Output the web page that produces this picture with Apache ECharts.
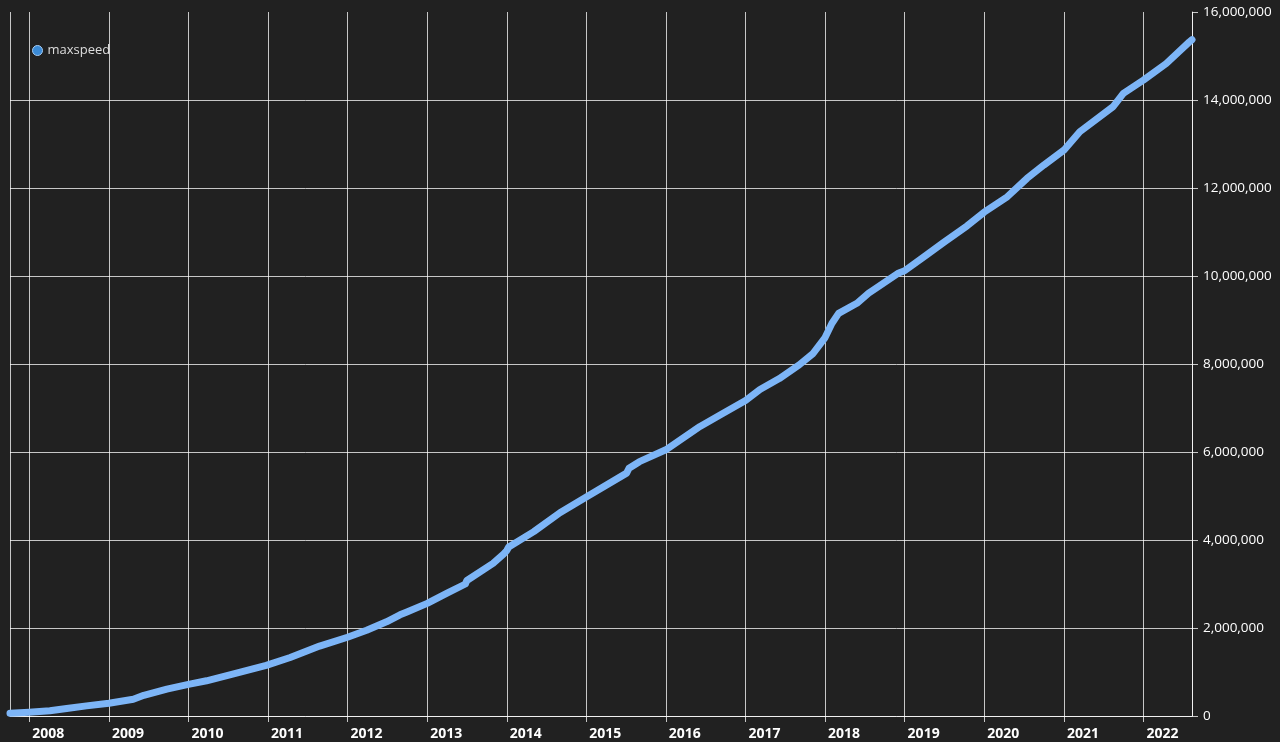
<!DOCTYPE html>
<html>
<head>
<meta charset="utf-8">
<script src="https://cdn.jsdelivr.net/npm/echarts@6/dist/echarts.min.js"></script>
<style>
html,body{margin:0;padding:0;background:#212121;}
#chart{width:1280px;height:742px;}
</style>
</head>
<body>
<div id="chart"></div>
<script>
var seriesName = 'maxspeed';
var dates = [
 '2007-10-05','2008-01-01','2008-04-05','2008-06-21','2008-09-20',
 '2009-01-01','2009-04-23','2009-06-10','2009-09-24',
 '2010-01-01','2010-03-25','2010-07-23','2010-12-24',
 '2011-04-13','2011-08-26',
 '2012-01-01','2012-03-29','2012-06-28','2012-08-29','2012-09-27',
 '2013-01-01','2013-04-02','2013-06-25','2013-07-02','2013-10-30','2013-12-17',
 '2014-01-01','2014-01-10','2014-05-05','2014-09-02',
 '2015-01-01','2015-07-05','2015-07-16','2015-09-02',
 '2016-01-01','2016-06-06','2016-09-06',
 '2017-01-01','2017-03-08','2017-06-05','2017-09-04','2017-11-07',
 '2018-01-01','2018-02-01','2018-03-04','2018-05-27','2018-07-20','2018-08-25','2018-12-05',
 '2019-01-01','2019-04-12','2019-06-28','2019-10-15',
 '2020-01-01','2020-04-16','2020-07-16','2020-10-01',
 '2021-01-01','2021-03-15','2021-08-15','2021-10-01',
 '2022-01-01','2022-04-16','2022-07-31','2022-08-12'
];
var values = [
 60000,85000,120000,170000,230000,
 290000,380000,470000,610000,
 720000,800000,950000,1150000,
 1330000,1590000,
 1790000,1950000,2140000,2300000,2360000,
 2560000,2790000,3000000,3080000,3470000,3680000,
 3760000,3840000,4190000,4620000,
 4980000,5520000,5630000,5780000,
 6050000,6580000,6840000,
 7170000,7420000,7670000,7980000,8240000,
 8600000,8920000,9150000,9380000,9610000,9730000,10070000,
 10120000,10480000,10760000,11140000,
 11450000,11800000,12220000,12520000,
 12860000,13280000,13850000,14150000,
 14450000,14830000,15320000,15370000
];
var yTicks = [0,2000000,4000000,6000000,8000000,10000000,12000000,14000000,16000000];

var data = dates.map(function(d,i){ return [d, values[i]]; });
var gridColor = 'rgba(255,255,255,0.75)';
var splitColors = yTicks.map(function(v,i){ return i === yTicks.length-1 ? 'rgba(0,0,0,0)' : gridColor; });

var chart = echarts.init(document.getElementById('chart'));
chart.setOption({
  backgroundColor: '#212121',
  animation: false,
  textStyle: { fontFamily: 'Open Sans' },
  legend: {
    left: 27, top: 39,
    icon: 'circle', itemWidth: 10, itemHeight: 10, itemGap: 10,
    textStyle: { color: '#dddddd', fontSize: 13, fontFamily: 'Open Sans' },
    data: [{ name: seriesName, itemStyle: { color: '#3a8ad6', borderColor: '#a6ccf2', borderWidth: 1 } }]
  },
  grid: { left: 10, right: 88, top: 12, bottom: 26, containLabel: false },
  xAxis: {
    type: 'time',
    min: dates[0],
    max: dates[dates.length-1],
    minInterval: 365 * 86400000,
    maxInterval: 366 * 86400000,
    splitNumber: 15,
    axisLine: { show: true, lineStyle: { color: gridColor, width: 1 } },
    axisTick: { show: true, length: 6, lineStyle: { color: gridColor } },
    splitLine: { show: true, lineStyle: { color: gridColor, width: 1 } },
    minorTick: { show: false },
    axisLabel: {
      color: '#ffffff', fontSize: 14, fontWeight: 'bold', fontFamily: 'Open Sans',
      formatter: '{yyyy}', align: 'left', padding: [0,0,0,3], margin: 11,
      showMinLabel: false, showMaxLabel: false
    }
  },
  yAxis: {
    type: 'value',
    position: 'right',
    min: 0, max: 16000000, interval: 2000000,
    axisLine: { show: true, lineStyle: { color: gridColor, width: 1 } },
    axisTick: { show: true, length: 6, lineStyle: { color: gridColor } },
    splitLine: { show: true, lineStyle: { color: splitColors, width: 1 } },
    axisLabel: {
      color: '#ffffff', fontSize: 13.5, fontFamily: 'Open Sans', margin: 11,
      formatter: function(v){ return v.toLocaleString('en-US'); }
    }
  },
  series: [{
    name: seriesName,
    type: 'line',
    data: data,
    showSymbol: false,
    symbol: 'none',
    itemStyle: { color: '#3a8ad6' },
    lineStyle: { color: '#7db5f7', width: 7, cap: 'round', join: 'round' }
  }]
});
</script>
</body>
</html>
